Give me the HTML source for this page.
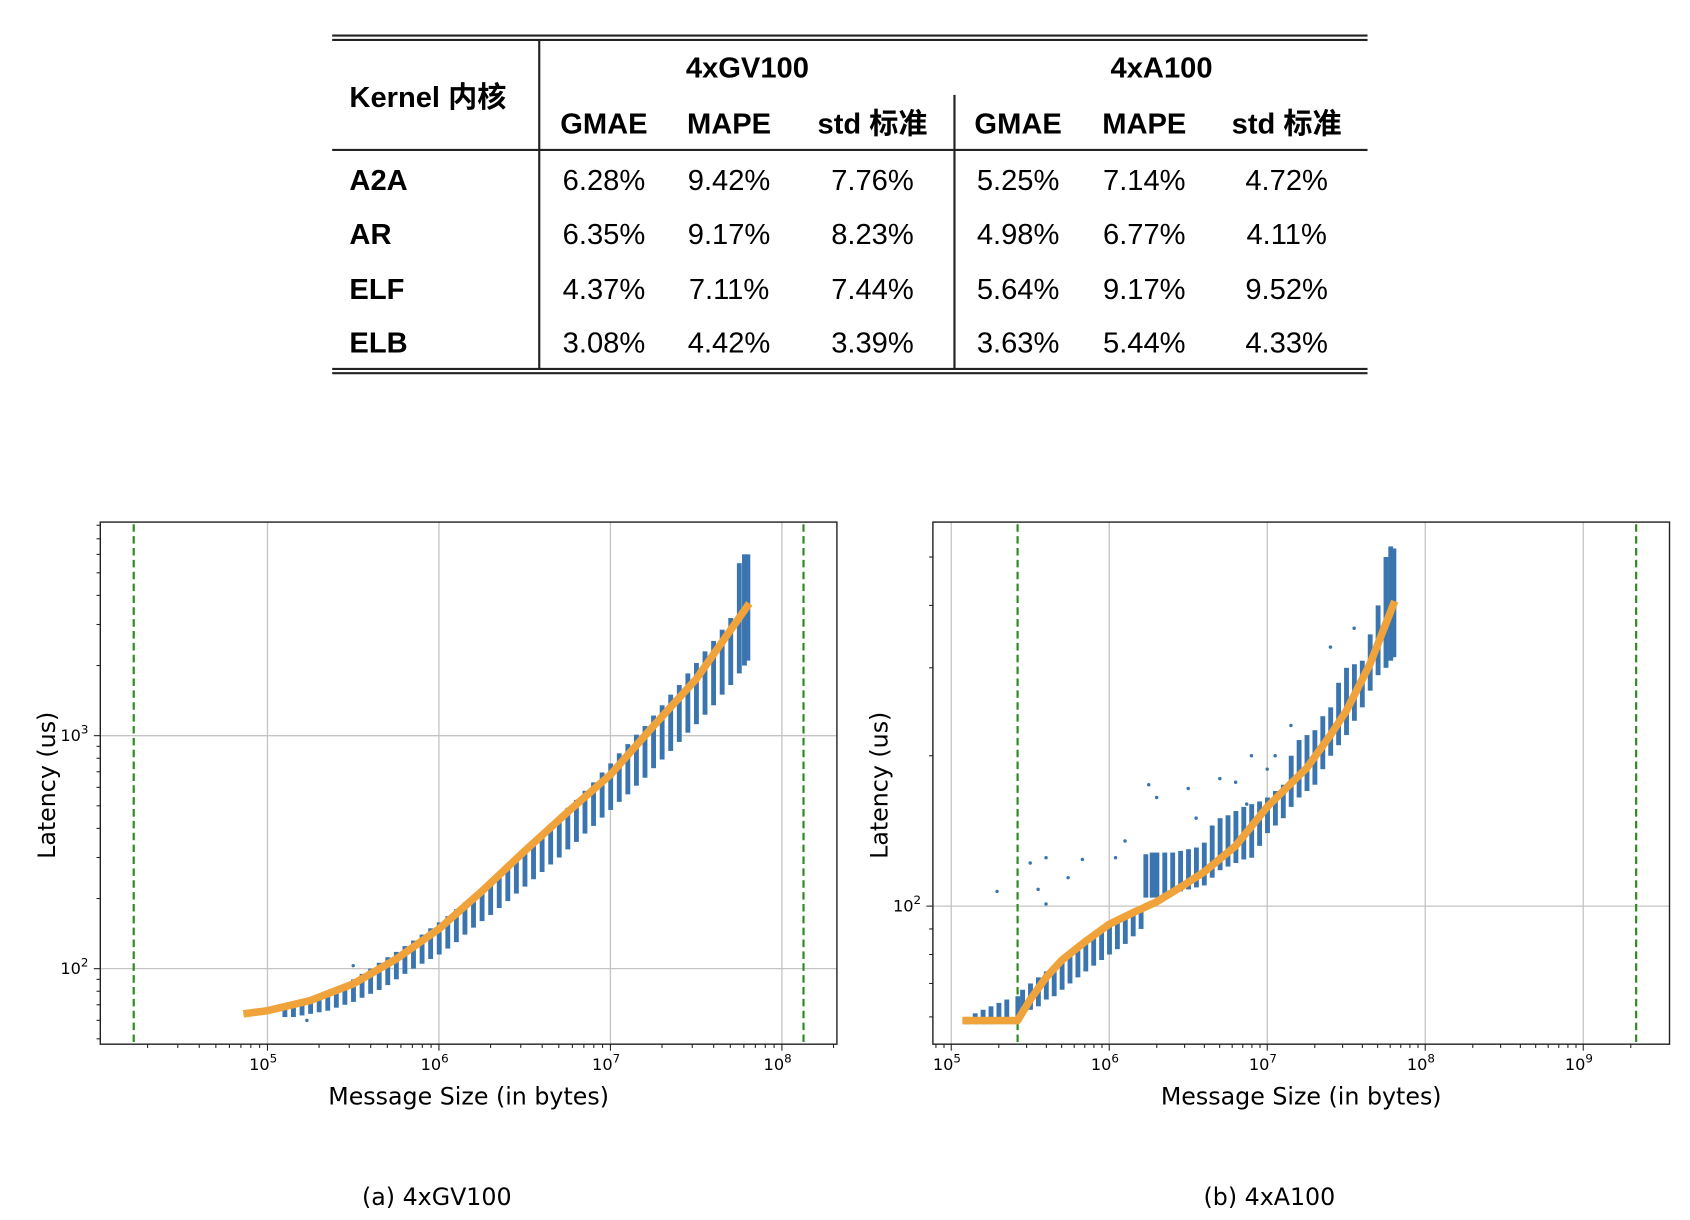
<!DOCTYPE html>
<html><head><meta charset="utf-8"><style>
html,body{margin:0;padding:0;background:#fff;width:1690px;height:1220px;overflow:hidden}
svg{display:block}
.tb{font-family:"Liberation Sans","Noto Sans CJK SC",sans-serif;font-size:27px;fill:#000}
.b{font-weight:bold}
.tk{font-family:"DejaVu Sans","Liberation Sans",sans-serif;font-size:15px;fill:#000}
.al{font-family:"DejaVu Sans","Liberation Sans",sans-serif;font-size:22px;fill:#000}
</style></head><body>
<svg id="root" width="1690" height="1220" viewBox="0 0 1567 1131" preserveAspectRatio="none">
<g id="table">
<line x1="308" y1="33" x2="1268" y2="33" stroke="#222" stroke-width="2"/>
<line x1="308" y1="37" x2="1268" y2="37" stroke="#222" stroke-width="2"/>
<line x1="500" y1="37" x2="500" y2="342" stroke="#222" stroke-width="2"/>
<line x1="885" y1="88" x2="885" y2="342" stroke="#222" stroke-width="2"/>
<line x1="308" y1="139" x2="1268" y2="139" stroke="#222" stroke-width="2"/>
<line x1="308" y1="342" x2="1268" y2="342" stroke="#222" stroke-width="2"/>
<line x1="308" y1="346" x2="1268" y2="346" stroke="#222" stroke-width="2"/>
<text class="tb b" x="324" y="99">Kernel 内核</text>
<text class="tb b" x="693" y="72" text-anchor="middle">4xGV100</text>
<text class="tb b" x="1077" y="72" text-anchor="middle">4xA100</text>
</g>
<g id="c1"></g>
<g id="c2"></g>
<text class="al" x="405" y="1117" text-anchor="middle">(a) 4xGV100</text>
<text class="al" x="1177" y="1117" text-anchor="middle">(b) 4xA100</text>
</svg>
<script>
// ---- table data ----
const subHeaders = ["GMAE","MAPE","std 标准","GMAE","MAPE","std 标准"];
const kernels = ["A2A","AR","ELF","ELB"];
const tableValues = [
 ["6.28%","9.42%","7.76%","5.25%","7.14%","4.72%"],
 ["6.35%","9.17%","8.23%","4.98%","6.77%","4.11%"],
 ["4.37%","7.11%","7.44%","5.64%","9.17%","9.52%"],
 ["3.08%","4.42%","3.39%","3.63%","5.44%","4.33%"]];

// ---- chart 1 data (4xGV100) ----
const c1ColLogX = [5.10,5.15,5.20,5.25,5.30,5.35,5.40,5.45,5.50,5.55,5.60,5.65,5.70,5.75,5.80,5.85,5.90,5.95,6.00,6.05,6.10,6.15,6.20,6.25,6.30,6.35,6.40,6.45,6.50,6.55,6.60,6.65,6.70,6.75,6.80,6.85,6.90,6.95,7.00,7.05,7.10,7.15,7.20,7.25,7.30,7.35,7.40,7.45,7.50,7.55,7.60,7.65,7.70,7.75,7.78,7.80];
const c1ColLo = [62,62,63,64,65,66,68,70,72,75,78,81,85,90,95,100,105,110,115,122,130,140,150,160,170,182,195,210,225,242,260,280,300,325,350,380,410,445,480,520,560,610,660,725,790,860,940,1030,1120,1230,1350,1500,1650,1850,2000,2100];
const c1ColHi = [68,70,72,74,76,79,82,86,90,95,100,106,112,118,125,132,140,149,158,168,180,192,205,222,240,257,275,297,320,350,380,415,450,490,530,580,630,695,760,840,920,1010,1100,1220,1350,1500,1650,1850,2050,2300,2550,2850,3200,5500,6000,6000];
const c1FitLogX = [4.86,5,5.25,5.5,5.75,6,6.25,6.5,6.75,7,7.25,7.5,7.81];
const c1FitY = [64,66,73,86,110,148,215,320,470,680,1100,1750,3700];
const c1Bounds = [4.22,8.126];
const c1Outliers = [[5.5,103],[5.23,60]];

// ---- chart 2 data (4xA100) ----
const c2ColLogX = [5.10,5.15,5.20,5.25,5.30,5.35,5.42,5.45,5.50,5.55,5.60,5.65,5.70,5.75,5.80,5.85,5.90,5.95,6.00,6.05,6.10,6.15,6.20,6.23,6.27,6.30,6.35,6.40,6.45,6.50,6.55,6.60,6.65,6.70,6.75,6.80,6.85,6.90,6.95,7.00,7.05,7.10,7.15,7.20,7.25,7.30,7.35,7.40,7.45,7.50,7.55,7.60,7.65,7.70,7.75,7.78,7.80];
const c2ColLo = [58,58,58,58,59,59,60,61,62,63,65,66,68,70,72,74,76,78,80,82,84,87,90,104,104,104,105,106,107,108,109,110,114,118,120,122,124,125,132,140,145,150,158,165,170,175,188,200,210,220,235,250,270,290,300,310,315];
const c2ColHi = [60,61,62,63,64,65,66,68,70,72,74,76,78,80,83,85,88,90,92,94,96,98,100,127,128,128,128,128,129,130,131,134,145,150,152,155,158,160,162,165,170,175,200,215,220,225,240,250,280,300,305,310,350,400,500,525,520];
const c2FitLogX = [5.07,5.42,5.5,5.6,5.7,5.85,6.0,6.15,6.3,6.45,6.6,6.8,7.0,7.15,7.25,7.4,7.5,7.65,7.807];
const c2FitY = [59,59,65,72,78,85,92,97,102,109,117,132,158,176,189,220,246,305,408];
const c2Bounds = [5.42,9.335];
const c2Outliers = [[5.29,107],[5.5,122],[5.6,125],[5.74,114],[5.83,124],[5.55,108],[5.6,101],[6.04,125],[6.25,175],[6.3,165],[6.5,172],[6.55,150],[6.7,180],[6.8,177],[6.87,160],[7.0,188],[7.15,230],[7.3,190],[7.4,330],[7.55,360],[6.1,135],[6.9,200],[7.05,200]];

const NS="http://www.w3.org/2000/svg";
function mk(parent,tag,attrs,txt){const e=document.createElementNS(NS,tag);for(const k in attrs)e.setAttribute(k,attrs[k]);if(txt!==undefined)e.textContent=txt;parent.appendChild(e);return e;}

(function(){
 const t=document.getElementById('table');
 const colX=[560,676,809,944,1061,1193];
 subHeaders.forEach((h,i)=>{
  const e=mk(t,'text',{class:'tb b',x:colX[i],y:124,'text-anchor':'middle'},h);
  
  
 });
 const rowY=[176,226,277,327];
 kernels.forEach((k,r)=>{
  const e=mk(t,'text',{class:'tb b',x:324,y:rowY[r]},k);
  
  
  tableValues[r].forEach((v,c)=>{
   const c2=mk(t,'text',{class:'tb',x:colX[c],y:rowY[r],'text-anchor':'middle'},v);
   
   
  });
 });
})();

function drawChart(g,cfg){
 const {L,R,T,B,x0,xd,xLo,xHi,y0,yd,yLo,yHi}=cfg;
 const X=lx=>x0+(lx-cfg.xRef)*xd;
 const Y=v=>y0-(Math.log10(v)-cfg.yRef)*yd;
 for(let d=Math.ceil(xLo);d<=xHi;d++){
  const e=mk(g,'line',{x1:X(d),x2:X(d),y1:T,y2:B,stroke:'#c4c4c4','stroke-width':1.2});
  
 }
 for(let d=Math.ceil(yLo);d<=yHi;d++){
  const e=mk(g,'line',{x1:L,x2:R,y1:Y(Math.pow(10,d)),y2:Y(Math.pow(10,d)),stroke:'#c4c4c4','stroke-width':1.2});
  
 }
 for(let d=Math.floor(xLo);d<=xHi;d++){
  for(let m=1;m<10;m++){
   const lx=d+Math.log10(m); if(lx<xLo||lx>xHi)continue;
   const len=m===1?6:3.5;
   mk(g,'line',{x1:X(lx),x2:X(lx),y1:B,y2:B+len,stroke:'#222','stroke-width':1});
   if(m===1){
    const t=mk(g,'text',{class:'tk',x:X(lx)-4,y:B+24,'text-anchor':'middle'},'10');
    mk(t,'tspan',{dy:-7,'font-size':11},String(d));
    
   }
  }
 }
 for(let d=Math.floor(yLo);d<=yHi;d++){
  for(let m=1;m<10;m++){
   const ly=d+Math.log10(m); if(ly<yLo||ly>yHi)continue;
   const yy=Y(Math.pow(10,ly)); const len=m===1?6:3.5;
   mk(g,'line',{x1:L-len,x2:L,y1:yy,y2:yy,stroke:'#222','stroke-width':1});
   if(m===1){
    const t=mk(g,'text',{class:'tk',x:L-24,y:yy+5,'text-anchor':'middle'},'10');
    mk(t,'tspan',{dy:-7,'font-size':11},String(d));
    
   }
  }
 }
 cfg.bounds.forEach(b=>{
  const e=mk(g,'line',{x1:X(b),x2:X(b),y1:T+2,y2:B,stroke:'#2a8a1e','stroke-width':2,'stroke-dasharray':'7,4'});
  
 });
 cfg.colX.forEach((lx,i)=>{
  const y1=Y(cfg.colHi[i]),y2=Y(cfg.colLo[i]);
  const e=mk(g,'rect',{x:X(lx)-2,y:y1,width:4.5,height:Math.max(2,y2-y1),fill:'#3a75b0'});
  
 });
 cfg.outliers.forEach(p=>{
  const e=mk(g,'circle',{cx:X(p[0]),cy:Y(p[1]),r:1.6,fill:'#3a75b0'});
  
 });
 const pts=cfg.fitX.map((lx,i)=>X(lx).toFixed(1)+','+Y(cfg.fitY[i]).toFixed(1)).join(' ');
 const f=mk(g,'polyline',{points:pts,fill:'none',stroke:'#f0a33a','stroke-width':7,'stroke-linejoin':'round'});
 
 const fr=mk(g,'rect',{x:L,y:T,width:R-L,height:B-T,fill:'none',stroke:'#222','stroke-width':1.3});
 
 const xl=mk(g,'text',{class:'al',x:(L+R)/2,y:B+56,'text-anchor':'middle'},'Message Size (in bytes)');
 
 const yl=mk(g,'text',{class:'al',x:0,y:0,'text-anchor':'middle',transform:`translate(${L-42},${(T+B)/2+2}) rotate(-90)`},'Latency (us)');
 
}

drawChart(document.getElementById('c1'),{L:93,R:776,T:484,B:968,x0:248,xRef:5,xd:159,xLo:4.025,xHi:8.32,
 y0:898,yRef:2,yd:216,yLo:1.676,yHi:3.91,bounds:c1Bounds,colX:c1ColLogX,colLo:c1ColLo,colHi:c1ColHi,
 fitX:c1FitLogX,fitY:c1FitY,outliers:c1Outliers});
drawChart(document.getElementById('c2'),{L:865,R:1548,T:484,B:968,x0:882,xRef:5,xd:146.5,xLo:4.884,xHi:9.45,
 y0:840,yRef:2,yd:463,yLo:1.724,yHi:2.769,bounds:c2Bounds,colX:c2ColLogX,colLo:c2ColLo,colHi:c2ColHi,
 fitX:c2FitLogX,fitY:c2FitY,outliers:c2Outliers});
</script>
</body></html>
